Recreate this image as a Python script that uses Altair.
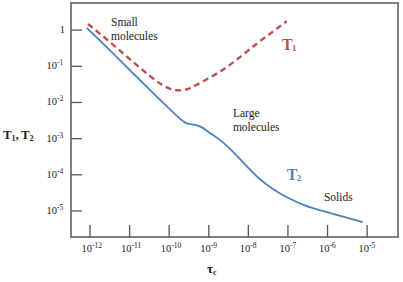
import altair as alt
import pandas as pd

# log10(tau_c / s) and log10(T / s) for the two relaxation curves
t1_log_tau = [-12.05, -11.49, -10.99, -10.48, -10.16, -9.95, -9.80, -9.62, -9.47, -9.15, -8.64, -8.21, -7.78, -7.40, -7.03]
t1_log_T = [0.17, -0.33, -0.81, -1.28, -1.54, -1.64, -1.67, -1.66, -1.61, -1.42, -1.11, -0.75, -0.36, -0.06, 0.25]

t2_log_tau = [-12.08, -11.24, -10.48, -9.85, -9.72, -9.60, -9.50, -9.40, -9.30, -9.20, -9.10, -8.95, -8.64, -8.21,
              -7.78, -7.33, -6.95, -6.57, -6.12, -5.56, -5.11]
t2_log_T = [0.06, -0.83, -1.67, -2.33, -2.46, -2.56, -2.60, -2.61, -2.63, -2.67, -2.74, -2.86, -3.08, -3.56,
            -4.08, -4.44, -4.67, -4.86, -5.00, -5.17, -5.31]

x_tick_exps = [-12, -11, -10, -9, -8, -7, -6, -5]
y_tick_exps = [0, -1, -2, -3, -4, -5]

# region annotations (log tau, log T, text)
note_x = [-11.47, -11.47, -8.39, -8.39, -6.09]
note_y = [0.19, -0.19, -2.33, -2.72, -4.64]
note_text = ["Small", "molecules", "Large", "molecules", "Solids"]

W, H = 327, 234
X_DOMAIN = [-12.48, -4.22]
Y_DOMAIN = [-5.72, 0.75]
SERIF = "'Liberation Serif', 'Times New Roman', Times, serif"
INK = "#222222"
AXIS = "#555555"
RED = "#c0504d"
BLUE = "#4f81bd"

xs = alt.Scale(domain=X_DOMAIN, nice=False, zero=False)
ys = alt.Scale(domain=Y_DOMAIN, nice=False, zero=False)

t1 = pd.DataFrame({"x": t1_log_tau, "y": t1_log_T})
t2 = pd.DataFrame({"x": t2_log_tau, "y": t2_log_T})
notes = pd.DataFrame({"x": note_x, "y": note_y, "t": note_text})
xt = pd.DataFrame({"e": x_tick_exps, "exp": [str(e) for e in x_tick_exps]})
yt = pd.DataFrame({"e": y_tick_exps, "exp": [str(e) for e in y_tick_exps]})

X = lambda f="x": alt.X(f"{f}:Q", scale=xs, axis=None)
Y = lambda f="y": alt.Y(f"{f}:Q", scale=ys, axis=None)

t2_line = alt.Chart(t2).mark_line(color=BLUE, strokeWidth=1.8, interpolate="basis").encode(x=X(), y=Y())
t1_line = alt.Chart(t1).mark_line(color=RED, strokeWidth=2.4, strokeDash=[6, 4], interpolate="basis").encode(x=X(), y=Y())

# inward ticks
x_ticks = alt.Chart(xt).mark_rule(color=AXIS, strokeWidth=1.3).encode(
    x=X("e"), y=alt.value(H), y2=alt.value(H - 12))
y_ticks = alt.Chart(yt).mark_rule(color=AXIS, strokeWidth=1.3).encode(
    y=Y("e"), x=alt.value(0), x2=alt.value(11))

# tick labels: "10" with a raised exponent
x_base = alt.Chart(xt).mark_text(font=SERIF, fontSize=10.5, color=INK, align="right", dx=2, baseline="middle").encode(
    x=X("e"), y=alt.value(H + 12), text=alt.value("10"))
x_exp = alt.Chart(xt).mark_text(font=SERIF, fontSize=7.5, color=INK, align="left", dx=2, baseline="middle").encode(
    x=X("e"), y=alt.value(H + 9), text="exp:N")

yt_pow = yt[yt.e != 0]
y_base = alt.Chart(yt_pow).mark_text(font=SERIF, fontSize=10.5, color=INK, align="right", baseline="middle").encode(
    y=Y("e"), x=alt.value(-14), text=alt.value("10"))
y_exp = alt.Chart(yt_pow).mark_text(font=SERIF, fontSize=7.5, color=INK, align="left", baseline="middle", dy=-3).encode(
    y=Y("e"), x=alt.value(-14), text="exp:N")
y_one = alt.Chart(yt[yt.e == 0]).mark_text(font=SERIF, fontSize=10.5, color=INK, align="right", baseline="middle").encode(
    y=Y("e"), x=alt.value(-6), text=alt.value("1"))

note_marks = alt.Chart(notes).mark_text(font=SERIF, fontSize=11.5, color=INK, align="left", baseline="middle").encode(
    x=X(), y=Y(), text="t:N")

# curve labels T1 / T2
lab = pd.DataFrame({"x": [-7.15, -7.03], "y": [-0.56, -4.14], "c": [RED, BLUE], "s": ["1", "2"]})
lab_T = alt.Chart(lab).mark_text(font=SERIF, fontSize=16, fontWeight="bold", align="left", baseline="alphabetic").encode(
    x=X(), y=Y(), text=alt.value("T"), color=alt.Color("c:N", scale=None))
lab_s = alt.Chart(lab).mark_text(font=SERIF, fontSize=9, fontWeight="bold", align="left", baseline="alphabetic", dx=10, dy=1).encode(
    x=X(), y=Y(), text="s:N", color=alt.Color("c:N", scale=None))

# axis titles built from pieces (subscripts)
def piece(txt, px, py, size):
    return alt.Chart(pd.DataFrame({"a": [0]})).mark_text(
        font=SERIF, fontSize=size, fontWeight="bold", color=INK, align="left", baseline="alphabetic"
    ).encode(x=alt.value(px - 71), y=alt.value(py - 3), text=alt.value(txt))

titles = [
    piece("T", 3, 139, 13), piece("1", 11.5, 141, 8), piece(",", 15.5, 139, 13),
    piece("T", 21, 139, 13), piece("2", 29.5, 141, 8),
    piece("τ", 207, 273, 13), piece("c", 213, 275, 8),
]

chart = alt.layer(
    x_ticks, y_ticks, t2_line, t1_line, x_base, x_exp, y_base, y_exp, y_one,
    note_marks, lab_T, lab_s, *titles
).properties(
    width=W, height=H,
    padding={"left": 71, "top": 3, "right": 5, "bottom": 45},
    autosize=alt.AutoSizeParams(type="none"),
    background="white",
).configure_view(stroke=AXIS, strokeWidth=1.5)

chart.save("out.html", embed_options={"renderer": "svg", "actions": False})
